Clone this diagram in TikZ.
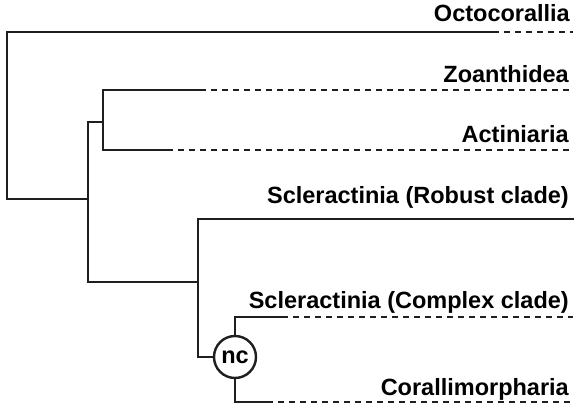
\documentclass[tikz,border=0pt]{standalone}
\usepackage{fontspec}
\setmainfont{Liberation Sans}
\usetikzlibrary{positioning}

\begin{document}
\begin{tikzpicture}[x=1pt,y=-1pt,
branch/.style={line width=2.4pt,draw=black!88,line cap=rect},
dashline/.style={line width=2.8pt,draw=black!88,dash pattern=on 6pt off 5pt},
lab/.style={anchor=base east,inner sep=0pt,font=\fontsize{23.5}{28}\selectfont\bfseries},
ncnode/.style={draw=black!88,circle,line width=2.4pt,minimum size=42pt,inner sep=0pt,fill=white,font=\fontsize{23.5}{28}\selectfont\bfseries}]
\useasboundingbox (0,0) rectangle (579,409);
% internal nodes
\coordinate (root) at (7,115);
\coordinate (nA) at (88,199);
\coordinate (nB) at (103,122);
\coordinate (nC) at (198,282);
\node[ncnode] (nc) at (235,357) {nc};
% branch ends (solid) and tips (dashed)
\coordinate (octo) at (493,32);   \coordinate (octoTip) at (573,32);
\coordinate (zoa) at (200,90);    \coordinate (zoaTip) at (573,90);
\coordinate (acti) at (167,150);  \coordinate (actiTip) at (573,150);
\coordinate (robust) at (573,219);
\coordinate (cplx) at (282,317);  \coordinate (cplxTip) at (573,317);
\coordinate (cora) at (267,402);  \coordinate (coraTip) at (573,402);
% labels
\node[lab] (octoLab) at (570,22) {Octocorallia};
\node[lab] (zoaLab) at (569,83) {Zoanthidea};
\node[lab] (actiLab) at (569,143) {Actiniaria};
\node[lab] (robustLab) at (569,204) {Scleractinia (Robust clade)};
\node[lab] (cplxLab) at (569,308) {Scleractinia (Complex clade)};
\node[lab] (coraLab) at (569,395) {Corallimorpharia};
% tree
\draw[branch] (root) |- (octo);
\draw[branch] (root) |- (nA);
\draw[branch] (nA) |- (nB);
\draw[branch] (nA) |- (nC);
\draw[branch] (nB) |- (zoa);
\draw[branch] (nB) |- (acti);
\draw[branch] (nC) |- (robust);
\draw[branch] (nC) |- (nc);
\draw[branch] (nc) |- (cplx);
\draw[branch] (nc) |- (cora);
% uncertain parts
\draw[dashline] (octo) -- (octoTip);
\draw[dashline] (zoa) -- (zoaTip);
\draw[dashline] (acti) -- (actiTip);
\draw[dashline] (cplx) -- (cplxTip);
\draw[dashline] (cora) -- (coraTip);
\end{tikzpicture}
\end{document}
